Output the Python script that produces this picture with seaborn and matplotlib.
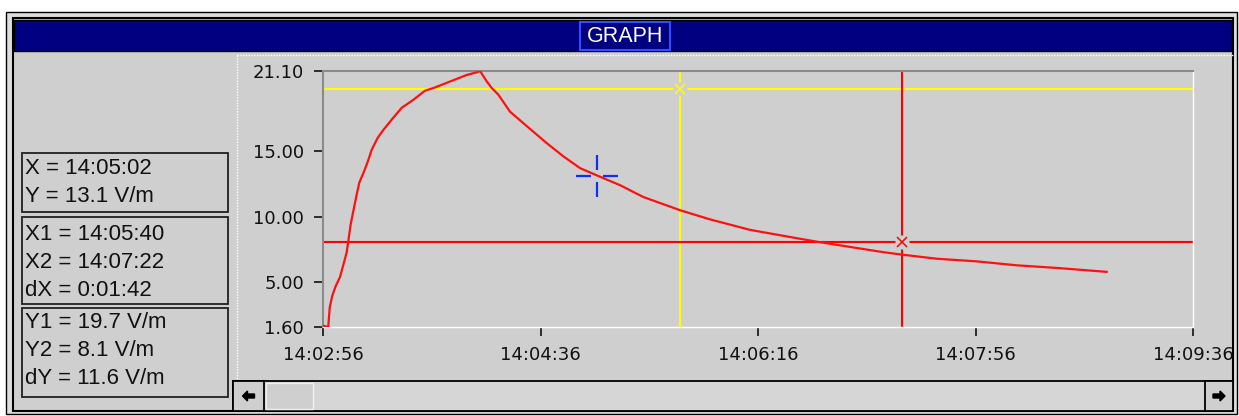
import pandas as pd
import matplotlib
matplotlib.use("Agg")
import matplotlib.pyplot as plt
import seaborn as sns
from matplotlib.patches import Rectangle, Polygon
from matplotlib.path import Path
from matplotlib import font_manager

# ==============================
# Data: field strength, seconds after the start time
# ==============================
start_time = "14:02:56"
t_sec = [0, 2.4, 3.1, 4.3, 5.8, 7.8, 9.3, 10.9, 11.6, 12.7,
         13.9, 15.5, 16.7, 19.0, 20.8, 22.4, 25.1, 27.7, 31.6, 36.2,
         41.5, 46.9, 50.7, 53.8, 61.5, 66.1, 70.7, 72.2, 75.3, 77.6,
         80.6, 86.0, 93.7, 102.9, 110.5, 118.2, 126.6, 136.6, 147.3, 164.1,
         177.9, 196.3, 213.2, 227.0, 242.3, 257.6, 266.8, 282.2, 300.5, 318.9,
         337.3, 360.3]
field = [1.7, 1.6, 3.1, 4.0, 4.7, 5.4, 6.3, 7.3, 8.1, 9.4,
         10.4, 11.7, 12.6, 13.5, 14.3, 15.1, 16.0, 16.6, 17.4, 18.3,
         18.9, 19.6, 19.8, 20.0, 20.5, 20.8, 21.0, 21.1, 20.3, 19.8,
         19.3, 18.0, 16.9, 15.6, 14.6, 13.7, 13.1, 12.4, 11.5, 10.5,
         9.8, 9.0, 8.5, 8.1, 7.7, 7.3, 7.1, 6.8, 6.6, 6.3,
         6.1, 5.8]

# cursors
pointer_x, pointer_y = 126, 13.1      # 14:05:02 / 13.1 V/m
x1, x2 = 164, 266                     # 14:05:40 / 14:07:22
y1, y2 = 19.7, 8.1

x_ticks = [0, 100, 200, 300, 400]
y_ticks = [1.6, 5, 10, 15, 21.1]
x_range = (0, 400)
y_range = (1.6, 21.1)

readout_1 = ["X = 14:05:02", "Y = 13.1 V/m"]
readout_2 = ["X1 = 14:05:40", "X2 = 14:07:22", "dX = 0:01:42"]
readout_3 = ["Y1 = 19.7 V/m", "Y2 = 8.1 V/m", "dY = 11.6 V/m"]

df = pd.DataFrame({"t": t_sec, "field": field})

# ==============================
# Fonts
# ==============================
names = {f.name for f in font_manager.fontManager.ttflist}
if "Liberation Sans Narrow" in names:
    panel_font, panel_size, title_size = "Liberation Sans Narrow", 18, 18
else:
    panel_font, panel_size, title_size = "Liberation Sans", 16, 15.5

GRAY = "#cfcfcf"
NAVY = "#000080"

fig = plt.figure(figsize=(12.39, 4.16), dpi=100)
fig.patch.set_facecolor("white")

# window chrome, drawn in pixel coordinates
bg = fig.add_axes([0, 0, 1, 1])
bg.set_xlim(0, 1239)
bg.set_ylim(416, 0)
bg.axis("off")


def box(x0, y0, x1_, y1_, **kw):
    bg.add_patch(Rectangle((x0, y0), x1_ - x0, y1_ - y0, **kw))


box(6, 12, 1237, 414, facecolor="#dedede", edgecolor="black", lw=1)
box(13, 18, 1233, 411, facecolor=GRAY, edgecolor="black", lw=1.5)
box(14, 20, 1232, 51, facecolor=NAVY, edgecolor="black", lw=1)
box(580, 22, 670, 50, facecolor=NAVY, edgecolor="#3050ff", lw=1.5)
bg.text(625, 37, "GRAPH", color="white", ha="center", va="center",
        family=panel_font, fontsize=title_size)

# dotted frame of the plot region
bg.plot([237, 237], [55, 380], color="white", lw=1, ls=(0, (1, 1)))
bg.plot([237, 1233], [55, 55], color="white", lw=1, ls=(0, (1, 1)))

# readout boxes
for (top, bottom), lines, ys in [
    ((153, 212), readout_1, [169, 196]),
    ((217, 304), readout_2, [234, 263, 290]),
    ((308, 397), readout_3, [322, 350, 378]),
]:
    box(22, top, 228, bottom, facecolor="none", edgecolor="#202020", lw=1.3)
    for s, yy in zip(lines, ys):
        bg.text(25, yy, s, ha="left", va="center", color="#111111",
                family=panel_font, fontsize=panel_size)

# scrollbar
box(233, 381, 1233, 411, facecolor="#d6d6d6", edgecolor="black", lw=1.3)
box(233, 381, 264, 411, facecolor=GRAY, edgecolor="black", lw=1.3)
box(266, 383, 313, 409, facecolor=GRAY, edgecolor="#f0f0f0", lw=1)
box(1205, 381, 1233, 411, facecolor=GRAY, edgecolor="black", lw=1.3)
arrow = [(-6, 0), (-1, -5), (-1, -2), (6, -2), (6, 2), (-1, 2), (-1, 5)]
bg.add_patch(Polygon([(248.5 + a, 396 + b) for a, b in arrow], color="black"))
bg.add_patch(Polygon([(1219 - a, 396 + b) for a, b in arrow], color="black"))

# ==============================
# Plot
# ==============================
ax = fig.add_axes([323 / 1239, (416 - 327) / 416, 870 / 1239, 256 / 416])
ax.set_facecolor("none")

sns.lineplot(data=df, x="t", y="field", color="#ff1010", lw=1.6,
             estimator=None, sort=False, ax=ax, zorder=3)

ax.axhline(y1, color="#ffff00", lw=1.5, zorder=2)
ax.axvline(x1, color="#ffff00", lw=1.5, zorder=2)
ax.axhline(y2, color="#ff0000", lw=1.5, zorder=2)
ax.axvline(x2, color="#ff0000", lw=1.5, zorder=2)
for cx, cy, c in [(x1, y1, "#ffff00"), (x2, y2, "#ff0000")]:
    ax.plot([cx], [cy], marker="s", ms=9.5, color=GRAY, mec="none", zorder=4)
    ax.plot([cx], [cy], marker="x", ms=7.5, mew=1.1, color=c, zorder=5)

cross = Path([(-1, 0), (-0.28, 0), (0.28, 0), (1, 0),
              (0, -1), (0, -0.28), (0, 0.28), (0, 1)],
             [Path.MOVETO, Path.LINETO] * 4)
ax.plot([pointer_x], [pointer_y], marker=cross, ms=30, mew=1.6,
        color="#1030f0", zorder=6)

ax.set_xlim(*x_range)
ax.set_ylim(*y_range)
base = pd.Timestamp("2000-01-01 " + start_time)
ax.set_xticks(x_ticks)
ax.set_xticklabels([(base + pd.Timedelta(seconds=s)).strftime("%H:%M:%S")
                    for s in x_ticks])
ax.set_yticks(y_ticks)
ax.set_yticklabels([f"{v:.2f}" for v in y_ticks])
ax.set_xlabel("")
ax.set_ylabel("")
ax.tick_params(axis="both", direction="out", length=6.5, width=1.1,
               color="black", pad=7, labelsize=13, labelcolor="#111111")

for side in ["left", "top"]:
    ax.spines[side].set_color("#8a8a8a")
    ax.spines[side].set_linewidth(1.5)
for side in ["right", "bottom"]:
    ax.spines[side].set_color("white")
    ax.spines[side].set_linewidth(1)
    ax.spines[side].set_linestyle((0, (1, 1)))

fig.savefig("out.png", dpi=100)
